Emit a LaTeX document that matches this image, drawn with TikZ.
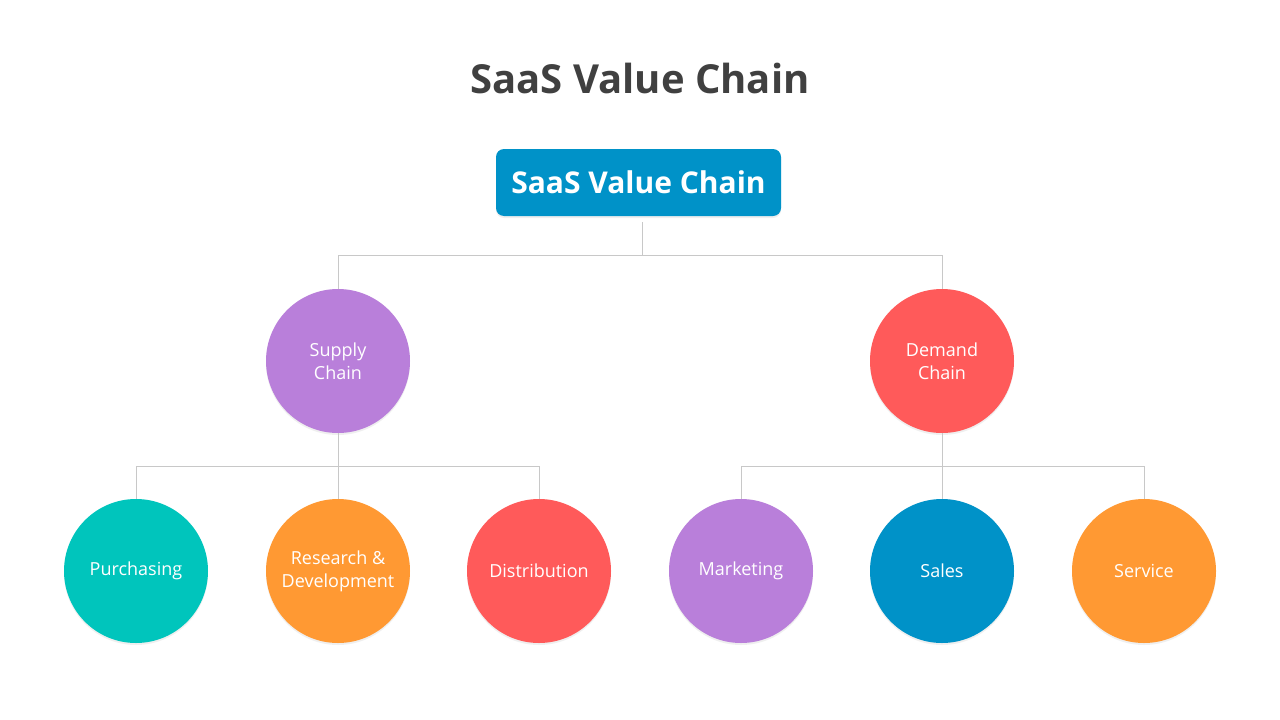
\documentclass[tikz,border=0pt]{standalone}
\usepackage{fontspec}
\setmainfont{Open Sans}
\usetikzlibrary{shadows}
\definecolor{tblue}{HTML}{0092C8}
\definecolor{tpurple}{HTML}{B97FDA}
\definecolor{tred}{HTML}{FF5A5A}
\definecolor{tteal}{HTML}{00C5BC}
\definecolor{torange}{HTML}{FF9933}
\definecolor{ttitle}{HTML}{404040}
\definecolor{tline}{HTML}{C8C8C8}
\begin{document}
\begin{tikzpicture}[x=1pt,y=-1pt,
  circ/.style={circle,minimum size=144pt,inner sep=0pt,text=white,font=\fontsize{18}{23}\selectfont,align=center,draw=none,drop shadow={opacity=0.12,shadow xshift=0pt,shadow yshift=-2pt}},
  conn/.style={draw=tline,line width=1pt}]
\useasboundingbox[fill=white] (0,0) rectangle (1280,720);
\node (title) at (640,78) {\fontsize{40}{48}\selectfont\bfseries\color{ttitle}SaaS Value Chain};
\node[fill=tblue,rounded corners=8pt,minimum width=285pt,minimum height=67pt,text=white,font=\fontsize{30}{36}\selectfont\bfseries,drop shadow={opacity=0.12,shadow xshift=0pt,shadow yshift=-2pt}] (root) at (638.5,182.5) {SaaS Value Chain};
\node[circ,fill=tpurple] (sup) at (338,361) {Supply\\ Chain};
\node[circ,fill=tred] (dem) at (942,361) {Demand\\ Chain};
\node[circ,fill=tteal] (pur) at (136,571) {Purchasing};
\node[circ,fill=torange] (rd) at (338,571) {Research \&\\ Development};
\node[circ,fill=tred] (dis) at (539,571) {Distribution};
\node[circ,fill=tpurple] (mar) at (741,571) {Marketing};
\node[circ,fill=tblue] (sal) at (942,571) {Sales};
\node[circ,fill=torange] (ser) at (1144,571) {Service};
\coordinate (r0) at (642,222);
\draw[conn] (r0) -- (642,255);
\draw[conn] (sup.north) -- (338,255) -- (942,255) -- (dem.north);
\draw[conn] (sup.south) -- (338,466);
\draw[conn] (pur.north) -- (136,466) -- (539,466) -- (dis.north);
\draw[conn] (rd.north) -- (338,466);
\draw[conn] (dem.south) -- (942,466);
\draw[conn] (mar.north) -- (741,466) -- (1144,466) -- (ser.north);
\draw[conn] (sal.north) -- (942,466);
\end{tikzpicture}
\end{document}
